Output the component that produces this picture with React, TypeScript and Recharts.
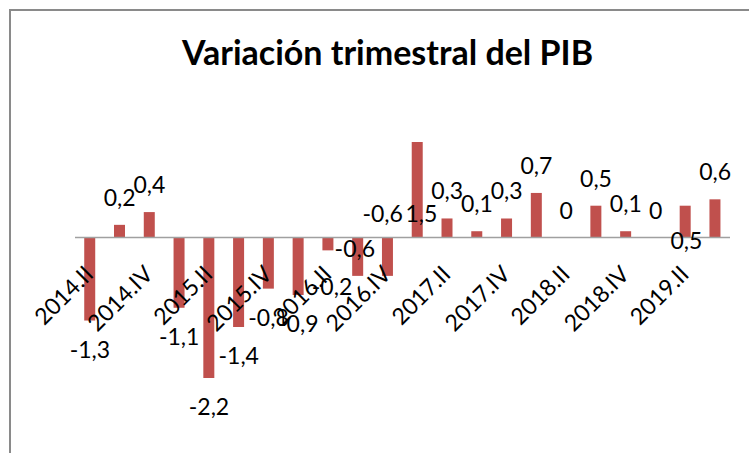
import React from 'react';
import { ComposedChart, Bar, Line, XAxis, YAxis, ReferenceLine, LabelList } from 'recharts';

// Quarterly GDP change (%)
const QUARTERS = [
  '2014.II', '2014.III', '2014.IV',
  '2015.I', '2015.II', '2015.III', '2015.IV',
  '2016.I', '2016.II', '2016.III', '2016.IV',
  '2017.I', '2017.II', '2017.III', '2017.IV',
  '2018.I', '2018.II', '2018.III', '2018.IV',
  '2019.I', '2019.II', '2019.III',
];
const VARIATION = [
  -1.3, 0.2, 0.4,
  -1.1, -2.2, -1.4, -0.8,
  -0.9, -0.2, -0.6, -0.6,
  1.5, 0.3, 0.1, 0.3,
  0.7, 0, 0.5, 0.1,
  0, 0.5, 0.6,
];
const Y_DOMAIN: [number, number] = [-3, 2];

// hand-moved labels in the original sheet (dx, dy from default spot)
const LABEL_NUDGE: Record<string, [number, number]> = {
  '2016.II': [4, 8],
  '2016.III': [-3, -56],
  '2016.IV': [-5, -91],
  '2017.I': [4, 99],
  '2019.II': [1, 62],
};

const W = 749;
const H = 453;
const MARGIN = { top: 110, right: 19, bottom: 23, left: 75 };
const X_AXIS_H = 1;
const PLOT_TOP = MARGIN.top;
const PLOT_BOTTOM = H - MARGIN.bottom - X_AXIS_H;
const ZERO_Y = PLOT_TOP + (Y_DOMAIN[1] / (Y_DOMAIN[1] - Y_DOMAIN[0])) * (PLOT_BOTTOM - PLOT_TOP);

const FONT = 'Lato, "Open Sans", sans-serif';
const BAR_COLOR = '#C0504D';
const LABEL_SIZE = 23;

const data = QUARTERS.map((q, i) => ({ quarter: q, value: VARIATION[i] }));

const fmt = (v: number) => (v === 0 ? '0' : v.toFixed(1).replace('.', ','));

// label hangs off the end of each bar (point of the hidden line = bar end)
const ValueLabel = (props: any) => {
  const x = Number(props.x);
  const y = Number(props.y);
  const v = Number(props.value);
  let cy = v >= 0 ? y - 27 : y + 29;
  let dx = 0;
  const nudge = LABEL_NUDGE[QUARTERS[props.index]];
  if (nudge) {
    dx = nudge[0];
    cy += nudge[1];
  }
  return (
    <text x={x + dx} y={cy + 8} textAnchor="middle" fontFamily={FONT} fontSize={LABEL_SIZE} fill="#000">
      {fmt(v)}
    </text>
  );
};

const QuarterTick = (props: any) => {
  const { x, payload } = props;
  const tx = x + 5;
  const ty = ZERO_Y + 38;
  return (
    <text
      x={tx}
      y={ty}
      textAnchor="end"
      transform={`rotate(-45, ${tx}, ${ty})`}
      fontFamily={FONT}
      fontSize={LABEL_SIZE}
      fill="#000"
    >
      {payload.value}
    </text>
  );
};

export default function App() {
  return (
    <div style={{ position: 'absolute', left: 0, top: 0, width: W, height: H, background: '#fff', overflow: 'hidden' }}>
      <div
        style={{
          position: 'absolute', left: 9, top: 9, width: 900, height: 600,
          borderLeft: '2.5px solid #8a8a8a', borderTop: '2.5px solid #8a8a8a',
        }}
      />
      <div
        style={{
          position: 'absolute', left: 0, width: 775, top: 30, textAlign: 'center',
          fontFamily: FONT, fontWeight: 700, fontSize: 34, color: '#000', lineHeight: '44px',
        }}
      >
        Variación trimestral del PIB
      </div>
      <div style={{ position: 'absolute', left: 0, top: 0 }}>
        <ComposedChart width={W} height={H} data={data} margin={MARGIN} barCategoryGap="31%">
          <YAxis hide domain={Y_DOMAIN} />
          <Bar dataKey="value" fill={BAR_COLOR} isAnimationActive={false} />
          <ReferenceLine y={0} stroke="#a0a0a0" strokeWidth={1.5} />
          <Line
            dataKey="value"
            stroke="none"
            dot={false}
            activeDot={false}
            isAnimationActive={false}
            legendType="none"
          >
            <LabelList dataKey="value" content={ValueLabel} />
          </Line>
          <XAxis
            dataKey="quarter"
            height={X_AXIS_H}
            axisLine={false}
            tickLine={false}
            tickSize={0}
            tickMargin={0}
            interval={1}
            tick={QuarterTick}
          />
        </ComposedChart>
      </div>
    </div>
  );
}
